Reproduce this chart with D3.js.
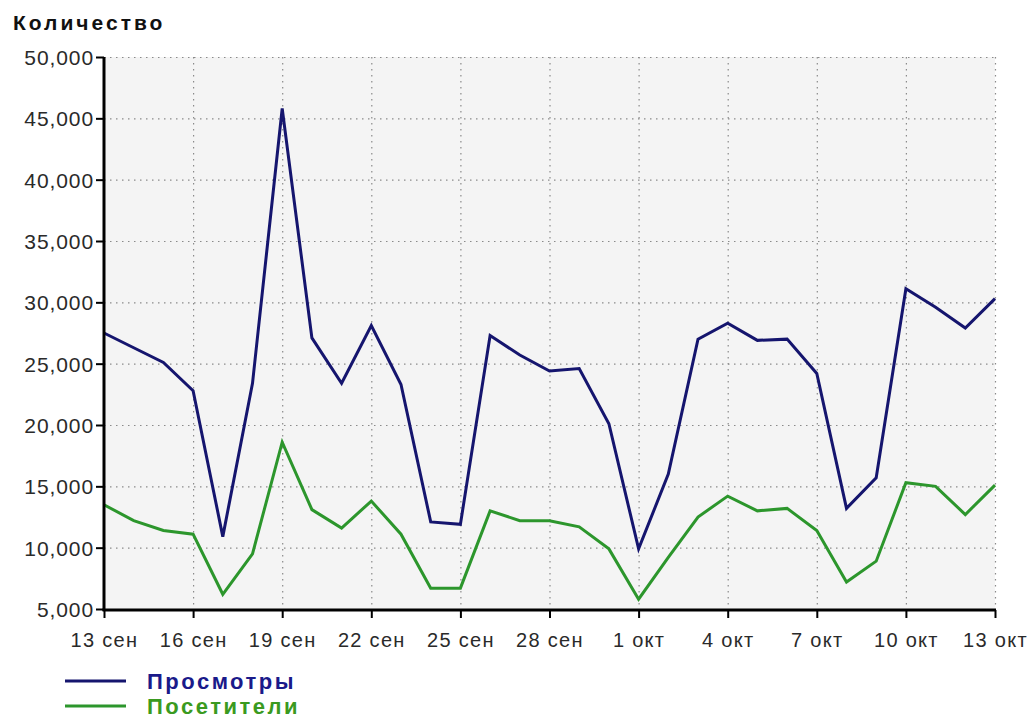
<!DOCTYPE html>
<html>
<head>
<meta charset="utf-8">
<script src="https://cdn.jsdelivr.net/npm/d3@7"></script>
<style>
  html, body { margin: 0; padding: 0; background: #ffffff; }
  svg { display: block; }
</style>
</head>
<body>
<svg id="chart" width="1029" height="718"></svg>
<script>
// ---- data ----
const days = ["13 сен","14 сен","15 сен","16 сен","17 сен","18 сен","19 сен","20 сен","21 сен","22 сен",
  "23 сен","24 сен","25 сен","26 сен","27 сен","28 сен","29 сен","30 сен",
  "1 окт","2 окт","3 окт","4 окт","5 окт","6 окт","7 окт","8 окт","9 окт","10 окт","11 окт","12 окт","13 окт"];
const views = [27500,26300,25100,22800,10900,23400,45800,27100,23400,28100,
  23300,12100,11900,27300,25700,24400,24600,20100,
  9900,16000,27000,28300,26900,27000,24200,13200,15700,31100,29600,27900,30300];
const visitors = [13500,12200,11400,11100,6200,9500,18600,13100,11600,13800,
  11100,6700,6700,13000,12200,12200,11700,9900,
  5800,9200,12500,14200,13000,13200,11400,7200,8900,15300,15000,12700,15100];
const yTicks = [5000,10000,15000,20000,25000,30000,35000,40000,45000,50000];
const xTickLabels = ["13 сен","16 сен","19 сен","22 сен","25 сен","28 сен","1 окт","4 окт","7 окт","10 окт","13 окт"];
const seriesNames = ["Просмотры","Посетители"];
const title = "Количество";

// ---- layout ----
const svg = d3.select("#chart");
const L = 104, R = 995, T = 57, B = 609;
const blue = "#15156e", green = "#2c962c";

const x = d3.scalePoint().domain(days).range([L, R]);
const y = d3.scaleLinear().domain([5000, 50000]).range([B, T]);

// plot background
svg.append("rect").attr("x", L).attr("y", T).attr("width", R - L).attr("height", B - T + 2)
  .attr("fill", "#f4f4f4");

// grid
const grid = svg.append("g");
grid.selectAll("line.h").data(yTicks.filter(v => v > 5000)).join("line")
  .attr("x1", L).attr("x2", R).attr("y1", d => y(d) + 0.5).attr("y2", d => y(d) + 0.5)
  .attr("stroke", "#8a8a8a").attr("stroke-width", 1.2).attr("stroke-dasharray", "1.5,4.5");
grid.selectAll("line.v").data(xTickLabels.slice(1)).join("line")
  .attr("x1", d => x(d) + 0.5).attr("x2", d => x(d) + 0.5).attr("y1", T).attr("y2", B)
  .attr("stroke", "#8a8a8a").attr("stroke-width", 1.2).attr("stroke-dasharray", "1.5,4.5");

// lines
const line = d3.line().x((d, i) => x(days[i])).y(d => y(d));
svg.append("path").datum(visitors).attr("d", line).attr("fill", "none")
  .attr("stroke", green).attr("stroke-width", 3).attr("stroke-linejoin", "miter");
svg.append("path").datum(views).attr("d", line).attr("fill", "none")
  .attr("stroke", blue).attr("stroke-width", 3).attr("stroke-linejoin", "miter");

// axes
const yAxis = svg.append("g").attr("transform", `translate(${L},0)`)
  .call(d3.axisLeft(y).tickValues(yTicks).tickSize(8).tickFormat(d3.format(",")));
const xAxis = svg.append("g").attr("transform", `translate(0,${B + 1})`)
  .call(d3.axisBottom(x).tickValues(xTickLabels).tickSize(8));
[yAxis, xAxis].forEach(g => {
  g.select(".domain").attr("stroke", "#000").attr("stroke-width", 3);
  g.selectAll(".tick line").attr("stroke", "#000").attr("stroke-width", 2);
  g.selectAll(".tick text").attr("fill", "#2a2a2a")
    .style("font-family", "'Liberation Sans', Arial, sans-serif");
});
yAxis.select(".domain").attr("d", `M0,${T}V${B + 2}`);
xAxis.select(".domain").attr("d", `M${L - 1.5},0H${R + 1}`);
yAxis.selectAll(".tick text").style("font-size", "21px").style("letter-spacing", "0.9px")
  .attr("x", -10).attr("dy", "0.36em");
xAxis.selectAll(".tick text").style("font-size", "20px").style("letter-spacing", "1.3px")
  .attr("y", 23).attr("dy", "0.71em");

// title
svg.append("text").attr("x", 13).attr("y", 30).text(title)
  .style("font-family", "'Liberation Sans', Arial, sans-serif").style("font-weight", "bold")
  .style("font-size", "21px").style("letter-spacing", "3px").attr("fill", "#111");

// legend
const legend = svg.append("g");
const lg = legend.selectAll("g").data(seriesNames).join("g")
  .attr("transform", (d, i) => `translate(0,${681 + i * 25})`);
lg.append("line").attr("x1", 65).attr("x2", 126).attr("y1", 0).attr("y2", 0)
  .attr("stroke", (d, i) => i === 0 ? blue : green).attr("stroke-width", 3);
lg.append("text").attr("x", 147).attr("y", 8).text(d => d)
  .style("font-family", "'Liberation Sans', Arial, sans-serif").style("font-weight", "bold")
  .style("font-size", "22px").style("letter-spacing", "2.5px")
  .attr("fill", (d, i) => i === 0 ? "#1a1a8a" : "#3a9a20");
</script>
</body>
</html>
